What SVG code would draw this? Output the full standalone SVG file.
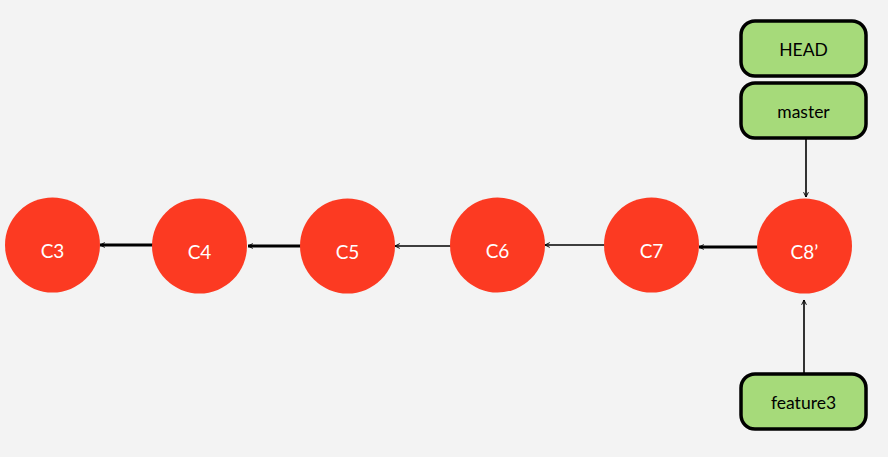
<svg xmlns="http://www.w3.org/2000/svg" width="888" height="457" viewBox="0 0 888 457">
<defs>
<style>
.commit circle{fill:#FC3A22}
.commit text{fill:#fff;font-family:Lato,"Open Sans",sans-serif;font-size:19px;text-anchor:middle}
.ref rect{fill:#A6DA7A;stroke:#000;stroke-width:3.5}
.ref text{fill:#000;font-family:Lato,"Open Sans",sans-serif;font-size:17.5px;text-anchor:middle}
.thick{stroke:#000;stroke-width:3;fill:none}
.thin{stroke:#000;stroke-width:1.6;fill:none}
</style>
<marker id="ah" viewBox="0 0 10 10" refX="9" refY="5" markerWidth="6" markerHeight="6" markerUnits="userSpaceOnUse" orient="auto">
<path d="M1,1 L9,5 L1,9" fill="none" stroke="#000" stroke-width="1.6"/>
</marker>
</defs>
<rect width="888" height="457" fill="#F3F3F3"/>
<g id="connectors">
<line class="thick" x1="155" y1="245" x2="100" y2="245" marker-end="url(#ah)"/>
<line class="thick" x1="302" y1="246" x2="248" y2="246" marker-end="url(#ah)"/>
<line class="thin" x1="452" y1="246" x2="395" y2="246" marker-end="url(#ah)"/>
<line class="thin" x1="606" y1="245" x2="545" y2="245" marker-end="url(#ah)"/>
<line class="thick" x1="759" y1="247" x2="699" y2="247" marker-end="url(#ah)"/>
<line class="thin" x1="806" y1="138" x2="806" y2="197" marker-end="url(#ah)"/>
<line class="thin" x1="804" y1="373" x2="804" y2="300" marker-end="url(#ah)"/>
</g>
<g id="C3" class="commit"><circle cx="52.5" cy="245" r="47.5"/><text x="52.5" y="258">C3</text></g>
<g id="C4" class="commit"><circle cx="199.5" cy="246" r="47.5"/><text x="199.5" y="259">C4</text></g>
<g id="C5" class="commit"><circle cx="347.5" cy="246" r="47.5"/><text x="347.5" y="259">C5</text></g>
<g id="C6" class="commit"><circle cx="497.5" cy="245" r="47.5"/><text x="497.5" y="258">C6</text></g>
<g id="C7" class="commit"><circle cx="651.5" cy="245" r="47.5"/><text x="651.5" y="258">C7</text></g>
<g id="C8p" class="commit"><circle cx="804.5" cy="246" r="47.5"/><text x="804.5" y="259">C8’</text></g>
<g id="HEAD" class="ref"><rect x="741" y="21" width="125" height="55" rx="14"/><text x="803.5" y="56" font-size="18.5">HEAD</text></g>
<g id="master" class="ref"><rect x="741" y="83" width="125" height="55" rx="14"/><text x="803.5" y="118">master</text></g>
<g id="feature3" class="ref"><rect x="741" y="374" width="125" height="55" rx="14"/><text x="803.5" y="409">feature3</text></g>
</svg>
